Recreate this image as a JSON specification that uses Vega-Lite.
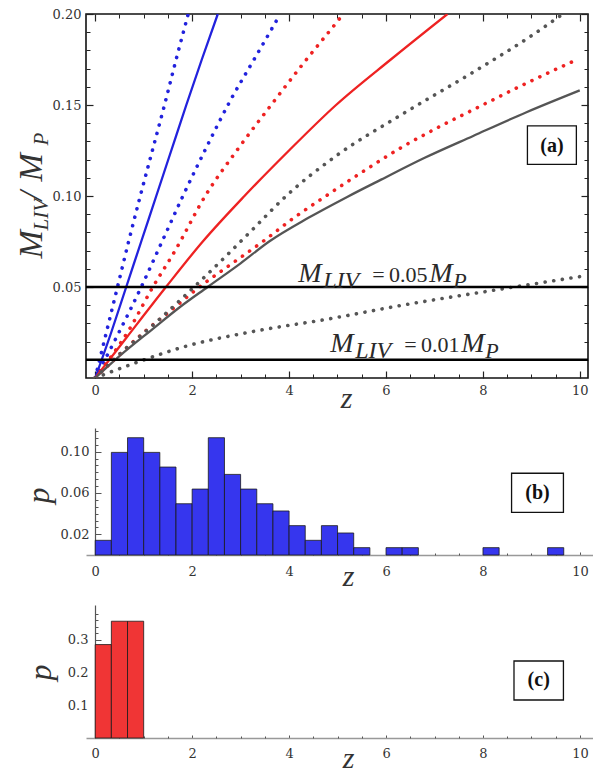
{
  "$schema": "https://vega.github.io/schema/vega-lite/v6.json",
  "padding": {"left": 13, "top": 7, "right": 0, "bottom": 0},
  "background": "white",
  "spacing": 50,
  "bounds": "flush",
  "config": {
    "view": {"stroke": null},
    "axis": {"grid": false, "labelFlush": false, "labelOverlap": false, "labelBound": false, "labelFont": "DejaVu Serif", "labelFontSize": 13, "labelColor": "#333", "titleFont": "Liberation Serif", "titleFontStyle": "italic", "titleFontWeight": "normal", "titleColor": "#333", "tickColor": "#333"},
    "text": {"font": "Liberation Serif"}
  },
  "datasets": {
    "curves": [
      {"series": "A0", "model": "A", "kind": "central", "z": 0, "v": 0},
      {"series": "A0", "model": "A", "kind": "central", "z": 0.33, "v": 0.025},
      {"series": "A0", "model": "A", "kind": "central", "z": 0.64, "v": 0.05},
      {"series": "A0", "model": "A", "kind": "central", "z": 0.95, "v": 0.075},
      {"series": "A0", "model": "A", "kind": "central", "z": 1.26, "v": 0.1},
      {"series": "A0", "model": "A", "kind": "central", "z": 1.57, "v": 0.125},
      {"series": "A0", "model": "A", "kind": "central", "z": 1.88, "v": 0.15},
      {"series": "A0", "model": "A", "kind": "central", "z": 2.2, "v": 0.175},
      {"series": "A0", "model": "A", "kind": "central", "z": 2.53, "v": 0.2},
      {"series": "A1", "model": "A", "kind": "bound", "z": 0, "v": 0},
      {"series": "A1", "model": "A", "kind": "bound", "z": 0.23, "v": 0.025},
      {"series": "A1", "model": "A", "kind": "bound", "z": 0.46, "v": 0.05},
      {"series": "A1", "model": "A", "kind": "bound", "z": 0.69, "v": 0.075},
      {"series": "A1", "model": "A", "kind": "bound", "z": 0.93, "v": 0.1},
      {"series": "A1", "model": "A", "kind": "bound", "z": 1.18, "v": 0.125},
      {"series": "A1", "model": "A", "kind": "bound", "z": 1.43, "v": 0.15},
      {"series": "A1", "model": "A", "kind": "bound", "z": 1.67, "v": 0.175},
      {"series": "A1", "model": "A", "kind": "bound", "z": 1.92, "v": 0.2},
      {"series": "A2", "model": "A", "kind": "bound", "z": 0, "v": 0},
      {"series": "A2", "model": "A", "kind": "bound", "z": 0.47, "v": 0.024},
      {"series": "A2", "model": "A", "kind": "bound", "z": 0.95, "v": 0.05},
      {"series": "A2", "model": "A", "kind": "bound", "z": 1.38, "v": 0.075},
      {"series": "A2", "model": "A", "kind": "bound", "z": 1.81, "v": 0.1},
      {"series": "A2", "model": "A", "kind": "bound", "z": 2.3, "v": 0.127},
      {"series": "A2", "model": "A", "kind": "bound", "z": 2.8, "v": 0.153},
      {"series": "A2", "model": "A", "kind": "bound", "z": 3.3, "v": 0.176},
      {"series": "A2", "model": "A", "kind": "bound", "z": 3.82, "v": 0.2},
      {"series": "B0", "model": "B", "kind": "central", "z": 0, "v": 0},
      {"series": "B0", "model": "B", "kind": "central", "z": 0.64, "v": 0.022},
      {"series": "B0", "model": "B", "kind": "central", "z": 1.46, "v": 0.05},
      {"series": "B0", "model": "B", "kind": "central", "z": 2.22, "v": 0.075},
      {"series": "B0", "model": "B", "kind": "central", "z": 3.08, "v": 0.1},
      {"series": "B0", "model": "B", "kind": "central", "z": 4.0, "v": 0.125},
      {"series": "B0", "model": "B", "kind": "central", "z": 4.97, "v": 0.15},
      {"series": "B0", "model": "B", "kind": "central", "z": 6.1, "v": 0.175},
      {"series": "B0", "model": "B", "kind": "central", "z": 7.27, "v": 0.2},
      {"series": "B1", "model": "B", "kind": "bound", "z": 0, "v": 0},
      {"series": "B1", "model": "B", "kind": "bound", "z": 0.71, "v": 0.027},
      {"series": "B1", "model": "B", "kind": "bound", "z": 1.19, "v": 0.05},
      {"series": "B1", "model": "B", "kind": "bound", "z": 1.65, "v": 0.07},
      {"series": "B1", "model": "B", "kind": "bound", "z": 2.27, "v": 0.1},
      {"series": "B1", "model": "B", "kind": "bound", "z": 2.95, "v": 0.126},
      {"series": "B1", "model": "B", "kind": "bound", "z": 3.66, "v": 0.151},
      {"series": "B1", "model": "B", "kind": "bound", "z": 4.3, "v": 0.173},
      {"series": "B1", "model": "B", "kind": "bound", "z": 4.97, "v": 0.195},
      {"series": "B1", "model": "B", "kind": "bound", "z": 5.12, "v": 0.2},
      {"series": "B2", "model": "B", "kind": "bound", "z": 0, "v": 0},
      {"series": "B2", "model": "B", "kind": "bound", "z": 0.5, "v": 0.013},
      {"series": "B2", "model": "B", "kind": "bound", "z": 1.0, "v": 0.025},
      {"series": "B2", "model": "B", "kind": "bound", "z": 1.6, "v": 0.038},
      {"series": "B2", "model": "B", "kind": "bound", "z": 2.15, "v": 0.05},
      {"series": "B2", "model": "B", "kind": "bound", "z": 2.8, "v": 0.0625},
      {"series": "B2", "model": "B", "kind": "bound", "z": 3.46, "v": 0.075},
      {"series": "B2", "model": "B", "kind": "bound", "z": 4.1, "v": 0.088},
      {"series": "B2", "model": "B", "kind": "bound", "z": 4.76, "v": 0.1},
      {"series": "B2", "model": "B", "kind": "bound", "z": 5.5, "v": 0.113},
      {"series": "B2", "model": "B", "kind": "bound", "z": 6.34, "v": 0.127},
      {"series": "B2", "model": "B", "kind": "bound", "z": 7.1, "v": 0.138},
      {"series": "B2", "model": "B", "kind": "bound", "z": 7.92, "v": 0.149},
      {"series": "B2", "model": "B", "kind": "bound", "z": 8.9, "v": 0.162},
      {"series": "B2", "model": "B", "kind": "bound", "z": 9.95, "v": 0.175},
      {"series": "C0", "model": "C", "kind": "central", "z": 0, "v": 0},
      {"series": "C0", "model": "C", "kind": "central", "z": 0.5, "v": 0.012},
      {"series": "C0", "model": "C", "kind": "central", "z": 1.19, "v": 0.027},
      {"series": "C0", "model": "C", "kind": "central", "z": 1.75, "v": 0.039},
      {"series": "C0", "model": "C", "kind": "central", "z": 2.32, "v": 0.05},
      {"series": "C0", "model": "C", "kind": "central", "z": 3.0, "v": 0.063},
      {"series": "C0", "model": "C", "kind": "central", "z": 3.59, "v": 0.075},
      {"series": "C0", "model": "C", "kind": "central", "z": 4.4, "v": 0.088},
      {"series": "C0", "model": "C", "kind": "central", "z": 5.2, "v": 0.0995},
      {"series": "C0", "model": "C", "kind": "central", "z": 5.9, "v": 0.109},
      {"series": "C0", "model": "C", "kind": "central", "z": 6.8, "v": 0.121},
      {"series": "C0", "model": "C", "kind": "central", "z": 7.8, "v": 0.133},
      {"series": "C0", "model": "C", "kind": "central", "z": 8.9, "v": 0.146},
      {"series": "C0", "model": "C", "kind": "central", "z": 10.0, "v": 0.158},
      {"series": "C1", "model": "C", "kind": "bound", "z": 0, "v": 0},
      {"series": "C1", "model": "C", "kind": "bound", "z": 0.5, "v": 0.013},
      {"series": "C1", "model": "C", "kind": "bound", "z": 1.19, "v": 0.029},
      {"series": "C1", "model": "C", "kind": "bound", "z": 2.0, "v": 0.049},
      {"series": "C1", "model": "C", "kind": "bound", "z": 2.7, "v": 0.067},
      {"series": "C1", "model": "C", "kind": "bound", "z": 3.3, "v": 0.083},
      {"series": "C1", "model": "C", "kind": "bound", "z": 3.94, "v": 0.1},
      {"series": "C1", "model": "C", "kind": "bound", "z": 4.97, "v": 0.122},
      {"series": "C1", "model": "C", "kind": "bound", "z": 6.34, "v": 0.145},
      {"series": "C1", "model": "C", "kind": "bound", "z": 7.86, "v": 0.169},
      {"series": "C1", "model": "C", "kind": "bound", "z": 9.0, "v": 0.188},
      {"series": "C1", "model": "C", "kind": "bound", "z": 9.65, "v": 0.2},
      {"series": "C2", "model": "C", "kind": "bound", "z": 0, "v": 0},
      {"series": "C2", "model": "C", "kind": "bound", "z": 0.36, "v": 0.0037},
      {"series": "C2", "model": "C", "kind": "bound", "z": 0.85, "v": 0.0085},
      {"series": "C2", "model": "C", "kind": "bound", "z": 1.88, "v": 0.0175},
      {"series": "C2", "model": "C", "kind": "bound", "z": 3.25, "v": 0.0255},
      {"series": "C2", "model": "C", "kind": "bound", "z": 4.83, "v": 0.0325},
      {"series": "C2", "model": "C", "kind": "bound", "z": 6.34, "v": 0.04},
      {"series": "C2", "model": "C", "kind": "bound", "z": 8.27, "v": 0.0484},
      {"series": "C2", "model": "C", "kind": "bound", "z": 10.0, "v": 0.0557}
    ],
    "hlines": [{"h": 0.05}, {"h": 0.01}],
    "ann": [
      {"z": 4.19, "v": 0.0529, "rhs": "=\u20090.05"},
      {"z": 4.85, "v": 0.01445, "rhs": "=\u20090.01"}
    ],
    "boxes": [
      {"panel": "a", "label": "(a)", "x1": 8.92, "x2": 9.93, "y1": 0.1174, "y2": 0.1385, "cx": 9.425, "cy": 0.1275},
      {"panel": "b", "label": "(b)", "x1": 8.59, "x2": 9.66, "y1": 0.0413, "y2": 0.0791, "cx": 9.125, "cy": 0.0602},
      {"panel": "c", "label": "(c)", "x1": 8.64, "x2": 9.66, "y1": 0.1162, "y2": 0.2355, "cx": 9.15, "cy": 0.1759}
    ],
    "histb": [
      {"z0": 0, "z1": 0.3333, "p": 0.0142},
      {"z0": 0.3333, "z1": 0.6667, "p": 0.0993},
      {"z0": 0.6667, "z1": 1, "p": 0.1135},
      {"z0": 1, "z1": 1.3333, "p": 0.0993},
      {"z0": 1.3333, "z1": 1.6667, "p": 0.0851},
      {"z0": 1.6667, "z1": 2, "p": 0.0496},
      {"z0": 2, "z1": 2.3333, "p": 0.0638},
      {"z0": 2.3333, "z1": 2.6667, "p": 0.1135},
      {"z0": 2.6667, "z1": 3, "p": 0.078},
      {"z0": 3, "z1": 3.3333, "p": 0.0638},
      {"z0": 3.3333, "z1": 3.6667, "p": 0.0496},
      {"z0": 3.6667, "z1": 4, "p": 0.0426},
      {"z0": 4, "z1": 4.3333, "p": 0.0284},
      {"z0": 4.3333, "z1": 4.6667, "p": 0.0142},
      {"z0": 4.6667, "z1": 5, "p": 0.0284},
      {"z0": 5, "z1": 5.3333, "p": 0.0213},
      {"z0": 5.3333, "z1": 5.6667, "p": 0.0071},
      {"z0": 6, "z1": 6.3333, "p": 0.0071},
      {"z0": 6.3333, "z1": 6.6667, "p": 0.0071},
      {"z0": 8, "z1": 8.3333, "p": 0.0071},
      {"z0": 9.3333, "z1": 9.6667, "p": 0.0071}
    ],
    "histc": [
      {"z0": 0, "z1": 0.3333, "p": 0.2857},
      {"z0": 0.3333, "z1": 0.6667, "p": 0.3571},
      {"z0": 0.6667, "z1": 1, "p": 0.3571}
    ]
  },
  "vconcat": [
    {
      "width": 502,
      "height": 364,
      "view": {"stroke": "#111", "strokeWidth": 1.6},
      "resolve": {"axis": {"x": "independent", "y": "independent"}},
      "layer": [
        {
          "data": {"name": "curves"},
          "transform": [{"filter": "datum.kind === 'central'"}],
          "mark": {"type": "line", "strokeWidth": 2.3, "interpolate": "monotone", "clip": true},
          "encoding": {
            "x": {"field": "z", "type": "quantitative", "scale": {"domain": [-0.19, 10.17], "nice": false, "zero": false},
              "axis": {"orient": "bottom", "values": [0, 2, 4, 6, 8, 10], "format": "d", "tickSize": -7, "tickWidth": 1.2, "tickColor": "#222", "domain": false, "labelPadding": 13, "title": "z", "titleFontSize": 30, "titleX": 260, "titleY": 29, "titleAlign": "center", "titleBaseline": "alphabetic"}},
            "y": {"field": "v", "type": "quantitative", "scale": {"domain": [0, 0.2], "nice": false, "zero": false},
              "axis": {"orient": "left", "values": [0.05, 0.1, 0.15, 0.2], "format": ".2f", "tickSize": -7, "tickWidth": 1.2, "tickColor": "#222", "domain": false, "labelPadding": 12, "title": "M", "titleFontSize": 34, "titleX": -45, "titleY": 244, "titleAngle": 270, "titleAlign": "left", "titleBaseline": "alphabetic"}},
            "color": {"field": "model", "type": "nominal", "scale": {"domain": ["A", "B", "C"], "range": ["#2222dd", "#ee2222", "#555555"]}, "legend": null},
            "detail": {"field": "series"}
          }
        },
        {
          "data": {"name": "curves"},
          "transform": [{"filter": "datum.kind === 'bound'"}],
          "mark": {"type": "line", "strokeWidth": 3.6, "strokeCap": "round", "strokeDash": [0.1, 8.6], "interpolate": "monotone", "clip": true},
          "encoding": {
            "x": {"field": "z", "type": "quantitative", "scale": {"domain": [-0.19, 10.17], "nice": false, "zero": false},
              "axis": {"orient": "bottom", "values": [0.5, 1, 1.5, 2.5, 3, 3.5, 4.5, 5, 5.5, 6.5, 7, 7.5, 8.5, 9, 9.5], "tickSize": -4, "tickColor": "#222", "labels": false, "domain": false, "title": null}},
            "y": {"field": "v", "type": "quantitative", "scale": {"domain": [0, 0.2], "nice": false, "zero": false},
              "axis": {"orient": "left", "values": [0.01, 0.02, 0.03, 0.04, 0.06, 0.07, 0.08, 0.09, 0.11, 0.12, 0.13, 0.14, 0.16, 0.17, 0.18, 0.19], "tickSize": -4, "tickColor": "#222", "labels": false, "domain": false, "title": "LIV", "titleFontSize": 21, "titleX": -39, "titleY": 216, "titleAngle": 270, "titleAlign": "left", "titleBaseline": "alphabetic"}},
            "color": {"field": "model", "type": "nominal", "scale": {"domain": ["A", "B", "C"], "range": ["#2222dd", "#ee2222", "#555555"]}, "legend": null},
            "detail": {"field": "series"}
          }
        },
        {
          "data": {"name": "hlines"},
          "mark": {"type": "rule", "color": "#000", "strokeWidth": 2.4},
          "encoding": {
            "y": {"field": "h", "type": "quantitative", "scale": {"domain": [0, 0.2], "nice": false, "zero": false},
              "axis": {"orient": "right", "values": [0.05, 0.1, 0.15, 0.2], "tickSize": -7, "tickWidth": 1.2, "tickColor": "#222", "labels": false, "domain": false, "title": null}}
          }
        },
        {
          "data": {"name": "boxes"},
          "transform": [{"filter": "datum.panel === 'a'"}],
          "mark": {"type": "rect", "fill": "white", "stroke": "#111", "strokeWidth": 1.3},
          "encoding": {
            "x": {"field": "x1", "type": "quantitative", "scale": {"domain": [-0.19, 10.17], "nice": false, "zero": false},
              "axis": {"orient": "top", "values": [0, 2, 4, 6, 8, 10], "tickSize": -7, "tickWidth": 1.2, "tickColor": "#222", "labels": false, "domain": false, "title": null}},
            "x2": {"field": "x2"},
            "y": {"field": "y1", "type": "quantitative", "scale": {"domain": [0, 0.2], "nice": false, "zero": false},
              "axis": {"orient": "right", "values": [0.01, 0.02, 0.03, 0.04, 0.06, 0.07, 0.08, 0.09, 0.11, 0.12, 0.13, 0.14, 0.16, 0.17, 0.18, 0.19], "tickSize": -4, "tickColor": "#222", "labels": false, "domain": false, "title": null}},
            "y2": {"field": "y2"}
          }
        },
        {
          "data": {"name": "boxes"},
          "transform": [{"filter": "datum.panel === 'a'"}],
          "mark": {"type": "text", "font": "Liberation Serif", "fontWeight": "bold", "fontSize": 20, "align": "center", "baseline": "middle", "color": "#111"},
          "encoding": {
            "x": {"field": "cx", "type": "quantitative", "scale": {"domain": [-0.19, 10.17], "nice": false, "zero": false},
              "axis": {"orient": "top", "values": [0.5, 1, 1.5, 2.5, 3, 3.5, 4.5, 5, 5.5, 6.5, 7, 7.5, 8.5, 9, 9.5], "tickSize": -4, "tickColor": "#222", "labels": false, "domain": false, "title": null}},
            "y": {"field": "cy", "type": "quantitative", "scale": {"domain": [0, 0.2], "nice": false, "zero": false},
              "axis": {"orient": "left", "ticks": false, "labels": false, "domain": false, "title": "/", "titleFontSize": 34, "titleX": -45, "titleY": 186, "titleAngle": 270, "titleAlign": "left", "titleBaseline": "alphabetic"}},
            "text": {"field": "label"}
          }
        },
        {
          "data": {"name": "ann"},
          "mark": {"type": "text", "font": "Liberation Serif", "fontStyle": "italic", "fontSize": 28, "align": "left", "baseline": "alphabetic", "color": "#2a2a2a"},
          "encoding": {
            "x": {"field": "z", "type": "quantitative", "scale": {"domain": [-0.19, 10.17], "nice": false, "zero": false}, "axis": null},
            "y": {"field": "v", "type": "quantitative", "scale": {"domain": [0, 0.2], "nice": false, "zero": false},
              "axis": {"orient": "left", "ticks": false, "labels": false, "domain": false, "title": "M", "titleFontSize": 34, "titleX": -45, "titleY": 167, "titleAngle": 270, "titleAlign": "left", "titleBaseline": "alphabetic"}},
            "text": {"value": "M"}
          }
        },
        {
          "data": {"name": "ann"},
          "mark": {"type": "text", "font": "Liberation Serif", "fontStyle": "italic", "fontSize": 24, "align": "left", "baseline": "alphabetic", "color": "#2a2a2a", "dx": 25, "dy": 6},
          "encoding": {
            "x": {"field": "z", "type": "quantitative", "scale": {"domain": [-0.19, 10.17], "nice": false, "zero": false}, "axis": null},
            "y": {"field": "v", "type": "quantitative", "scale": {"domain": [0, 0.2], "nice": false, "zero": false},
              "axis": {"orient": "left", "ticks": false, "labels": false, "domain": false, "title": "P", "titleFontSize": 21, "titleX": -39, "titleY": 131, "titleAngle": 270, "titleAlign": "left", "titleBaseline": "alphabetic"}},
            "text": {"value": "LIV"}
          }
        },
        {
          "data": {"name": "ann"},
          "mark": {"type": "text", "font": "Liberation Serif", "fontSize": 22, "align": "left", "baseline": "alphabetic", "color": "#2a2a2a", "dx": 74},
          "encoding": {
            "x": {"field": "z", "type": "quantitative", "scale": {"domain": [-0.19, 10.17], "nice": false, "zero": false}, "axis": null},
            "y": {"field": "v", "type": "quantitative", "scale": {"domain": [0, 0.2], "nice": false, "zero": false}, "axis": null},
            "text": {"field": "rhs"}
          }
        },
        {
          "data": {"name": "ann"},
          "mark": {"type": "text", "font": "Liberation Serif", "fontStyle": "italic", "fontSize": 28, "align": "left", "baseline": "alphabetic", "color": "#2a2a2a", "dx": 131},
          "encoding": {
            "x": {"field": "z", "type": "quantitative", "scale": {"domain": [-0.19, 10.17], "nice": false, "zero": false}, "axis": null},
            "y": {"field": "v", "type": "quantitative", "scale": {"domain": [0, 0.2], "nice": false, "zero": false}, "axis": null},
            "text": {"value": "M"}
          }
        },
        {
          "data": {"name": "ann"},
          "mark": {"type": "text", "font": "Liberation Serif", "fontStyle": "italic", "fontSize": 22, "align": "left", "baseline": "alphabetic", "color": "#2a2a2a", "dx": 155, "dy": 6},
          "encoding": {
            "x": {"field": "z", "type": "quantitative", "scale": {"domain": [-0.19, 10.17], "nice": false, "zero": false}, "axis": null},
            "y": {"field": "v", "type": "quantitative", "scale": {"domain": [0, 0.2], "nice": false, "zero": false}, "axis": null},
            "text": {"value": "P"}
          }
        }
      ]
    },
    {
      "width": 507,
      "height": 127,
      "resolve": {"axis": {"x": "independent", "y": "independent"}},
      "layer": [
        {
          "data": {"name": "histb"},
          "mark": {"type": "rect", "fill": "#3636ee", "stroke": "#1a1a1a", "strokeWidth": 0.8},
          "encoding": {
            "x": {"field": "z0", "type": "quantitative", "scale": {"domain": [-0.19, 10.27], "nice": false, "zero": false},
              "axis": {"orient": "bottom", "values": [0, 2, 4, 6, 8, 10], "format": "d", "tickSize": -3, "tickColor": "#555", "domain": true, "domainColor": "#999", "domainWidth": 1.3, "labelPadding": 13, "title": "z", "titleFontSize": 30, "titleX": 262, "titleY": 30, "titleAlign": "center", "titleBaseline": "alphabetic"}},
            "x2": {"field": "z1"},
            "y": {"field": "p", "type": "quantitative", "scale": {"domain": [0, 0.1229], "nice": false, "zero": true},
              "axis": {"orient": "left", "offset": -9, "values": [0.02, 0.06, 0.1], "format": ".2f", "tickSize": -6, "tickColor": "#555", "domain": true, "domainColor": "#555", "domainWidth": 1.2, "labelPadding": 12, "title": "p", "titleFontSize": 32, "titleX": -47, "titleY": 67, "titleAngle": 270, "titleAlign": "center", "titleBaseline": "alphabetic"}},
            "y2": {"datum": 0}
          }
        },
        {
          "data": {"name": "boxes"},
          "transform": [{"filter": "datum.panel === 'b'"}],
          "mark": {"type": "rect", "fill": "white", "stroke": "#111", "strokeWidth": 1.3},
          "encoding": {
            "x": {"field": "x1", "type": "quantitative", "scale": {"domain": [-0.19, 10.27], "nice": false, "zero": false},
              "axis": {"orient": "bottom", "values": [0.5, 1, 1.5, 2.5, 3, 3.5, 4.5, 5, 5.5, 6.5, 7, 7.5, 8.5, 9, 9.5], "tickSize": -2, "tickColor": "#555", "labels": false, "domain": false, "title": null}},
            "x2": {"field": "x2"},
            "y": {"field": "y1", "type": "quantitative", "scale": {"domain": [0, 0.1229], "nice": false, "zero": true},
              "axis": {"orient": "left", "offset": -9, "values": [0.0067, 0.0133, 0.0267, 0.0333, 0.04, 0.0467, 0.0533, 0.0667, 0.0733, 0.08, 0.0867, 0.0933, 0.1067, 0.1133, 0.12], "tickSize": -3, "tickColor": "#555", "labels": false, "domain": false, "title": null}},
            "y2": {"field": "y2"}
          }
        },
        {
          "data": {"name": "boxes"},
          "transform": [{"filter": "datum.panel === 'b'"}],
          "mark": {"type": "text", "font": "Liberation Serif", "fontWeight": "bold", "fontSize": 20, "align": "center", "baseline": "middle", "color": "#111"},
          "encoding": {
            "x": {"field": "cx", "type": "quantitative", "scale": {"domain": [-0.19, 10.27], "nice": false, "zero": false}, "axis": null},
            "y": {"field": "cy", "type": "quantitative", "scale": {"domain": [0, 0.1229], "nice": false, "zero": true}, "axis": null},
            "text": {"field": "label"}
          }
        }
      ]
    },
    {
      "width": 507,
      "height": 133,
      "resolve": {"axis": {"x": "independent", "y": "independent"}},
      "layer": [
        {
          "data": {"name": "histc"},
          "mark": {"type": "rect", "fill": "#f03535", "stroke": "#1a1a1a", "strokeWidth": 0.8},
          "encoding": {
            "x": {"field": "z0", "type": "quantitative", "scale": {"domain": [-0.19, 10.27], "nice": false, "zero": false},
              "axis": {"orient": "bottom", "values": [0, 2, 4, 6, 8, 10], "format": "d", "tickSize": -3, "tickColor": "#555", "domain": true, "domainColor": "#999", "domainWidth": 1.3, "labelPadding": 12, "title": "z", "titleFontSize": 30, "titleX": 262, "titleY": 29, "titleAlign": "center", "titleBaseline": "alphabetic"}},
            "x2": {"field": "z1"},
            "y": {"field": "p", "type": "quantitative", "scale": {"domain": [0, 0.4067], "nice": false, "zero": true},
              "axis": {"orient": "left", "offset": -9, "values": [0.1, 0.2, 0.3], "format": ".1f", "tickSize": -6, "tickColor": "#555", "domain": true, "domainColor": "#555", "domainWidth": 1.2, "labelPadding": 13, "title": "p", "titleFontSize": 32, "titleX": -45, "titleY": 67, "titleAngle": 270, "titleAlign": "center", "titleBaseline": "alphabetic"}},
            "y2": {"datum": 0}
          }
        },
        {
          "data": {"name": "boxes"},
          "transform": [{"filter": "datum.panel === 'c'"}],
          "mark": {"type": "rect", "fill": "white", "stroke": "#111", "strokeWidth": 1.3},
          "encoding": {
            "x": {"field": "x1", "type": "quantitative", "scale": {"domain": [-0.19, 10.27], "nice": false, "zero": false},
              "axis": {"orient": "bottom", "values": [0.5, 1, 1.5, 2.5, 3, 3.5, 4.5, 5, 5.5, 6.5, 7, 7.5, 8.5, 9, 9.5], "tickSize": -2, "tickColor": "#555", "labels": false, "domain": false, "title": null}},
            "x2": {"field": "x2"},
            "y": {"field": "y1", "type": "quantitative", "scale": {"domain": [0, 0.4067], "nice": false, "zero": true},
              "axis": {"orient": "left", "offset": -9, "values": [0.02, 0.04, 0.06, 0.08, 0.12, 0.14, 0.16, 0.18, 0.22, 0.24, 0.26, 0.28, 0.32, 0.34, 0.36, 0.38], "tickSize": -3, "tickColor": "#555", "labels": false, "domain": false, "title": null}},
            "y2": {"field": "y2"}
          }
        },
        {
          "data": {"name": "boxes"},
          "transform": [{"filter": "datum.panel === 'c'"}],
          "mark": {"type": "text", "font": "Liberation Serif", "fontWeight": "bold", "fontSize": 20, "align": "center", "baseline": "middle", "color": "#111"},
          "encoding": {
            "x": {"field": "cx", "type": "quantitative", "scale": {"domain": [-0.19, 10.27], "nice": false, "zero": false}, "axis": null},
            "y": {"field": "cy", "type": "quantitative", "scale": {"domain": [0, 0.4067], "nice": false, "zero": true}, "axis": null},
            "text": {"field": "label"}
          }
        }
      ]
    }
  ]
}
